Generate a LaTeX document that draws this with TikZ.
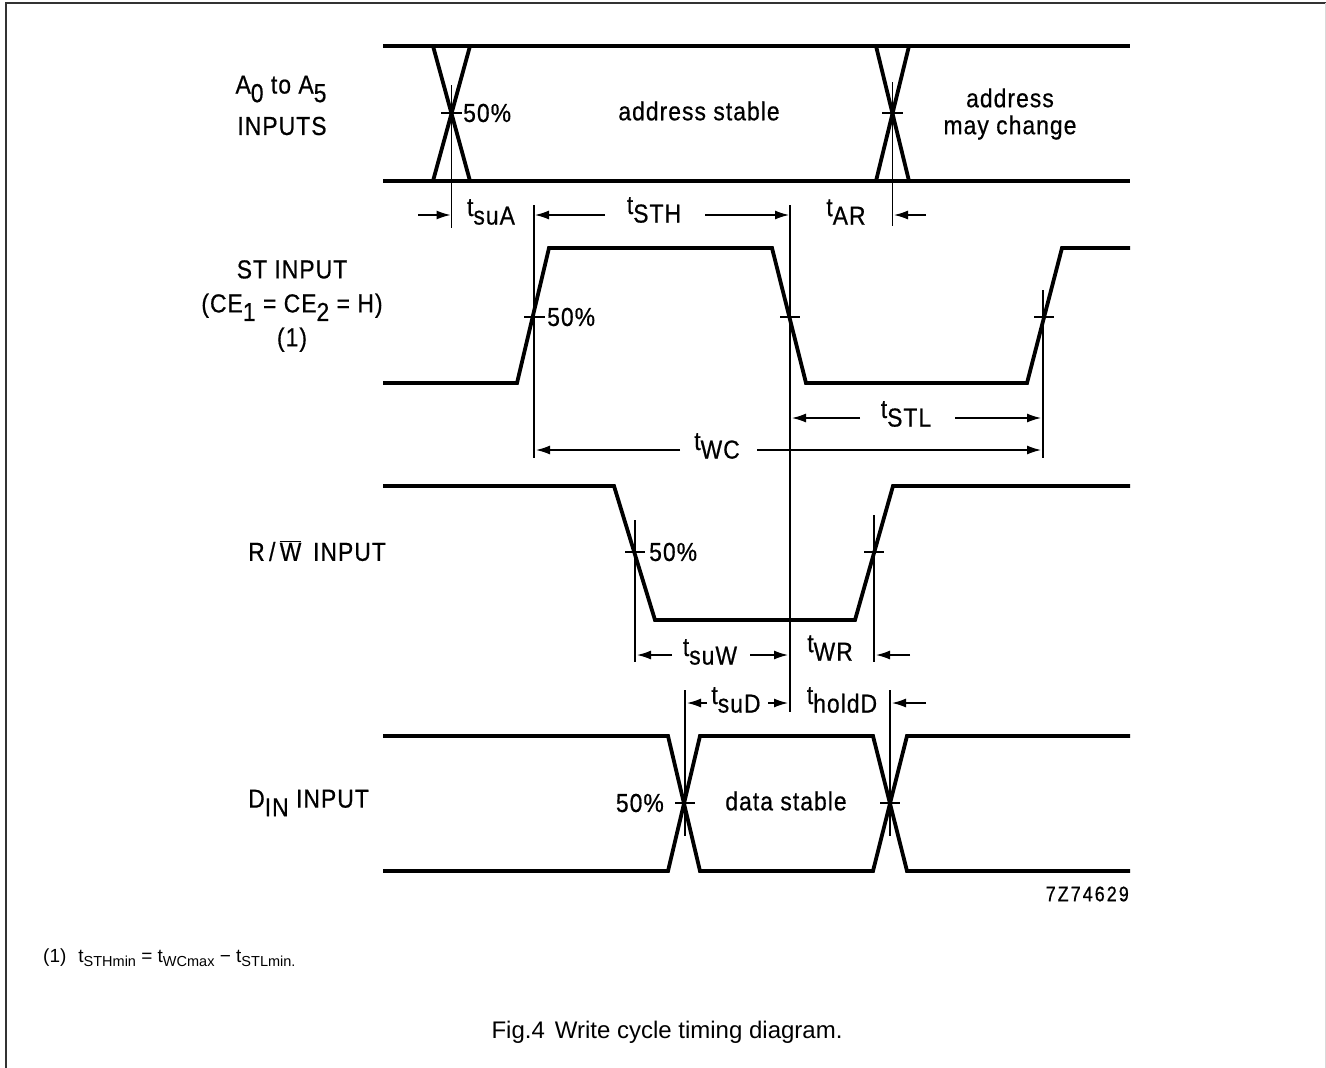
\documentclass[tikz,border=0pt]{standalone}
\usepackage{fontspec}
\setmainfont[FakeStretch=0.88,FakeBold=0.6,LetterSpace=4]{Liberation Sans}
\newfontfamily\capfont{Liberation Sans}
\newfontfamily\codefont[FakeStretch=0.85,FakeBold=0.8,LetterSpace=10]{Liberation Sans}
\usetikzlibrary{arrows.meta}
\newcommand\lowsub[1]{\raisebox{-0.33em}{#1}}
\newcommand\tlab[1]{t\lowsub{#1}}
\begin{document}
\begin{tikzpicture}[x=1pt,y=-1pt,
  sig/.style={line width=3.8pt, line join=miter, line cap=butt},
  thinln/.style={line width=1.4pt},
  dimarrow/.style={line width=1.4pt, -{Latex[length=14pt,width=9pt]}},
  lbl/.style={font=\fontsize{26}{30}\selectfont, inner sep=0pt},
  frame/.style={line width=2pt, draw=black!80}]
\useasboundingbox (0,0) rectangle (1326,1068);
% frame
\draw[frame] (6,1068) -- (6,3) -- (1326,3);
\draw[line width=1pt, draw=black!15] (1325,3) -- (1325,1068);

% ---------------- A0..A5 ----------------
\draw[sig] (383,46) -- (1130,46);
\draw[sig] (383,181) -- (1130,181);
\draw[sig] (433,46) -- (470,181);
\draw[sig] (470,46) -- (433,181);
\draw[sig] (876,46) -- (909,181);
\draw[sig] (909,46) -- (876,181);
\coordinate (ax1) at (451.5,113.5);
\coordinate (ax2) at (892.5,113.5);
\draw[thinln] (441,113) -- (462,113);
\draw[thinln] (882,113) -- (903,113);
\draw[thinln] (451.5,85) -- (451.5,228);
\draw[thinln] (892.5,82) -- (892.5,226);
\node[lbl, anchor=west] (p50a) at (463,113) {50\%};
\node[lbl] (astab) at (699,111) {address stable};
\node[lbl, align=center] (achg) at (1010,114) {address\\[-3pt]may change};
\node[lbl] (alabel) at (281,89) {A\lowsub{0}\ to\ A\lowsub{5}};
\node[lbl] (alabel2) at (282,126) {INPUTS};

% timing between A and ST
\coordinate (tsuAl) at (418,215);
\coordinate (tsuAr) at (450.5,215);
\draw[dimarrow] (tsuAl) -- (tsuAr);
\node[lbl] (tsuA) at (491,212) {\tlab{suA}};
\coordinate (sthL) at (535,215);
\coordinate (sthR) at (789,215);
\draw[dimarrow] (605,215) -- (sthL);
\draw[dimarrow] (705,215) -- (sthR);
\node[lbl] (tSTH) at (654,210) {\tlab{STH}};
\node[lbl] (tAR) at (846,212) {\tlab{AR}};
\draw[dimarrow] (926,215) -- (894,215);

% ---------------- ST ----------------
\draw[sig] (383,383) -- (517,383) -- (549,248) -- (772,248) -- (806,383)
  -- (1027,383) -- (1062,248) -- (1130,248);
\draw[thinln] (534,205) -- (534,458);
\draw[thinln] (790,205) -- (790,712);
\draw[thinln] (1043,290) -- (1043,458);
\draw[thinln] (524,317) -- (545,317);
\draw[thinln] (780,317) -- (800,317);
\draw[thinln] (1034,317) -- (1054,317);
\node[lbl, anchor=west] (p50st) at (547,317) {50\%};
\node[lbl, align=center] (stlabel) at (292,306)
  {ST INPUT\\[4pt](CE\lowsub{1} = CE\lowsub{2} = H)\\[4pt](1)};
% tSTL
\draw[dimarrow] (860,418) -- (792,418);
\draw[dimarrow] (955,418) -- (1041,418);
\node[lbl] (tSTL) at (906,414) {\tlab{STL}};
% tWC
\draw[dimarrow] (680,450) -- (536,450);
\draw[dimarrow] (757,450) -- (1041,450);
\node[lbl] (tWC) at (717,446) {\tlab{WC}};

% ---------------- R/W ----------------
\draw[sig] (383,486) -- (614,486) -- (655,620) -- (855,620) -- (893,486) -- (1130,486);
\draw[thinln] (635,520) -- (635,662);
\draw[thinln] (874,515) -- (874,662);
\draw[thinln] (625,552) -- (645,552);
\draw[thinln] (864,552) -- (884,552);
\node[lbl, anchor=west] (p50rw) at (649,552) {50\%};
\node[lbl, anchor=west] (rwlabel) at (248,551) {R\,/\,$\overline{\mbox{W}}$\,\ INPUT};
\draw[dimarrow] (672,655) -- (637,655);
\draw[dimarrow] (750,655) -- (788,655);
\node[lbl] (tsuW) at (710,652) {\tlab{suW}};
\node[lbl] (tWR) at (830,648) {\tlab{WR}};
\draw[dimarrow] (910,655) -- (876,655);

% tsuD / tholdD
\draw[thinln] (685,690) -- (685,836);
\draw[thinln] (890,690) -- (890,836);
\draw[dimarrow] (707,703) -- (687,703);
\draw[dimarrow] (768,703) -- (788,703);
\node[lbl] (tsuD) at (736,700) {\tlab{suD}};
\node[lbl] (tholdD) at (842,700) {\tlab{holdD}};
\draw[dimarrow] (926,703) -- (892,703);

% ---------------- DIN ----------------
\draw[sig] (383,736) -- (668,736) -- (700,871) -- (873,871) -- (907,736) -- (1130,736);
\draw[sig] (383,871) -- (668,871) -- (700,736) -- (873,736) -- (907,871) -- (1130,871);
\draw[thinln] (675,803) -- (695,803);
\draw[thinln] (880,803) -- (900,803);
\node[lbl, anchor=east] (p50d) at (664,803) {50\%};
\node[lbl] (dstab) at (786,801) {data stable};
\node[lbl, anchor=west] (dlabel) at (248,803) {D\lowsub{IN} INPUT};
\node[font=\codefont\fontsize{21}{24}\selectfont, inner sep=0pt, anchor=east] (code) at (1129,894) {7Z74629};

% footnote and caption
\node[font=\capfont\fontsize{19}{22}\selectfont, inner sep=0pt, anchor=west] (foot) at (43,958)
  {(1)\hspace{12pt}t\raisebox{-3.5pt}{\fontsize{14.5}{15}\selectfont STHmin} = t\raisebox{-3.5pt}{\fontsize{14.5}{15}\selectfont WCmax} − t\raisebox{-3.5pt}{\fontsize{14.5}{15}\selectfont STLmin.}};
\node[font=\capfont\fontsize{24}{28}\selectfont, inner sep=0pt] (cap) at (667,1032)
  {Fig.4\hspace{10pt}Write cycle timing diagram.};
\end{tikzpicture}
\end{document}
